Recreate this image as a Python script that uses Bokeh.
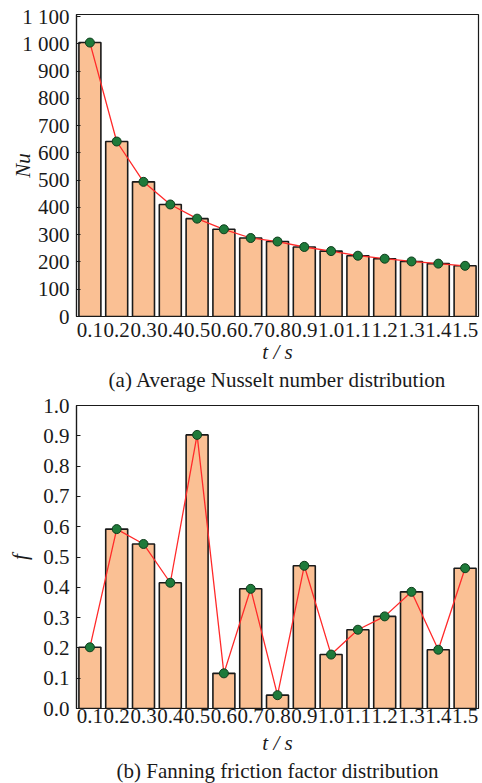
from bokeh.plotting import figure
from bokeh.layouts import column
from bokeh.models import Range1d, FixedTicker, Title, PrintfTickFormatter
from bokeh.embed import file_html
from bokeh.resources import INLINE

# ---- data ----
t_labels = ["0.1", "0.2", "0.3", "0.4", "0.5", "0.6", "0.7", "0.8", "0.9", "1.0",
            "1.1", "1.2", "1.3", "1.4", "1.5"]
positions = list(range(1, 16))
nu_values = [1005, 642, 494, 411, 359, 320, 288, 275, 255, 240, 223, 212, 202, 194, 186]
f_values = [0.202, 0.592, 0.543, 0.415, 0.903, 0.116, 0.395, 0.044, 0.471, 0.178,
            0.260, 0.304, 0.385, 0.194, 0.463]
nu_ticks = [0, 100, 200, 300, 400, 500, 600, 700, 800, 900, 1000, 1100]
f_ticks = [0.0, 0.1, 0.2, 0.3, 0.4, 0.5, 0.6, 0.7, 0.8, 0.9, 1.0]

FONT = "Liberation Serif"
BAR_FILL = "#FAC094"
EDGE = "#1a1a1a"
LINE = "#FF2A2A"
DOT = "#1E7A3A"


def base_fig(height, y_end, top, bottom):
    p = figure(width=482, height=height, x_range=Range1d(0.5, 15.5),
               y_range=Range1d(0, y_end), output_backend="svg", toolbar_location=None,
               min_border_left=76, min_border_right=4, min_border_top=top,
               min_border_bottom=bottom)
    p.xgrid.visible = False
    p.ygrid.visible = False
    p.outline_line_color = EDGE
    p.outline_line_width = 1.2
    p.background_fill_color = "white"
    p.border_fill_color = "white"
    for ax in (p.xaxis[0], p.yaxis[0]):
        ax.axis_line_color = EDGE
        ax.axis_line_width = 1.2
        ax.major_label_text_font = FONT
        ax.major_label_text_font_size = "21px"
        ax.major_label_text_color = "#1a1a1a"
        ax.minor_tick_line_color = None
        ax.axis_label_text_font = FONT
        ax.axis_label_text_font_size = "21px"
        ax.axis_label_text_font_style = "italic"
        ax.axis_label_text_color = "#1a1a1a"
    p.xaxis.ticker = FixedTicker(ticks=positions)
    p.xaxis.major_label_overrides = {i: lab for i, lab in zip(positions, t_labels)}
    p.xaxis.major_tick_in = 0
    p.xaxis.major_tick_out = 0
    p.xaxis.axis_label = "t / s"
    p.yaxis.major_tick_in = 4
    p.yaxis.major_tick_out = 0
    p.yaxis.major_tick_line_color = EDGE
    p.yaxis.major_label_standoff = 7
    return p


def add_series(p, vals):
    p.vbar(x=positions, top=vals, width=0.82, bottom=0, fill_color=BAR_FILL,
           line_color=EDGE, line_width=1.6)
    p.line(x=positions, y=vals, line_color=LINE, line_width=1.3)
    p.scatter(x=positions, y=vals, size=9, fill_color=DOT, line_color="#0f3d1c",
              line_width=1)


def caption(p, text, standoff):
    p.add_layout(Title(text=text, align="center", standoff=standoff,
                       text_font=FONT, text_font_size="21px",
                       text_font_style="normal", text_color="#1a1a1a"), "below")


# ---- (a) Nusselt ----
p1 = base_fig(392, 1108, 14, 76)
p1.yaxis.ticker = FixedTicker(ticks=nu_ticks)
p1.yaxis.major_label_overrides = {1000: "1 000", 1100: "1 100"}
p1.yaxis.axis_label = "Nu"
p1.yaxis.axis_label_standoff = -16
p1.xaxis.major_label_standoff = 6
p1.xaxis.axis_label_standoff = 0
add_series(p1, nu_values)
caption(p1, "(a) Average Nusselt number distribution", -2)

# ---- (b) Fanning ----
p2 = base_fig(391, 1.0, 13, 75)
p2.yaxis.ticker = FixedTicker(ticks=f_ticks)
p2.yaxis.formatter = PrintfTickFormatter(format="%.1f")
p2.yaxis.axis_label = "f"
p2.yaxis.axis_label_standoff = 8
p2.xaxis.major_label_standoff = 0
p2.xaxis.axis_label_standoff = 5
add_series(p2, f_values)
caption(p2, "(b) Fanning friction factor distribution", -1)

layout = column(p1, p2, spacing=0)
open("out.html", "w").write(file_html(layout, INLINE))
